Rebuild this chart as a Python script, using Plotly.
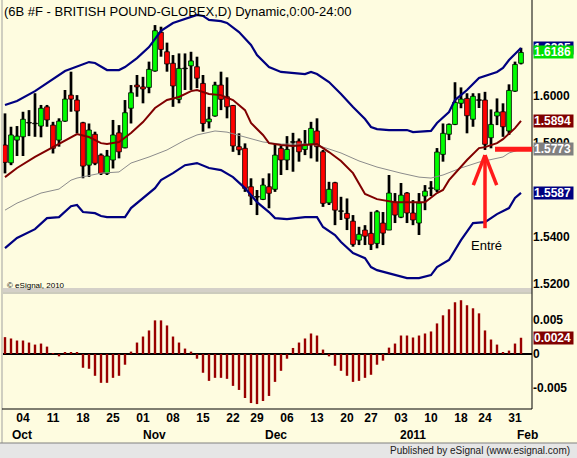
import pandas as pd
import plotly.graph_objects as go

# ---------------- data ----------------
holidays = ["2010-11-25", "2010-12-24", "2011-01-17"]
dates = [d.strftime("%Y-%m-%d") for d in pd.bdate_range("2010-09-29", "2011-02-01")
         if d.strftime("%Y-%m-%d") not in holidays]

opens = [1.5791, 1.5715, 1.5812, 1.5826, 1.5886, 1.5883, 1.5872, 1.5954, 1.5876, 1.5812,
         1.5893, 1.6004, 1.5983, 1.5886, 1.5705, 1.5837, 1.5748, 1.5670, 1.5727, 1.5843,
         1.5779, 1.5948, 1.6047, 1.6039, 1.6037, 1.6107, 1.6272, 1.6189, 1.6140, 1.5986,
         1.6118, 1.6129, 1.6125, 1.6054, 1.5890, 1.5915, 1.6047, 1.5997, 1.5960, 1.5784,
         1.5777, 1.5613, 1.5570, 1.5559, 1.5613, 1.5602, 1.5777, 1.5727, 1.5804, 1.5808,
         1.5772, 1.5795, 1.5851, 1.5762, 1.5544, 1.5630, 1.5509, 1.5499, 1.5466, 1.5385,
         1.5428, 1.5414, 1.5371, 1.5458, 1.5428, 1.5547, 1.5483, 1.5586, 1.5501, 1.5458,
         1.5573, 1.5607, 1.5599, 1.5751, 1.5837, 1.5879, 1.5969, 1.5990, 1.5901, 1.5983,
         1.5983, 1.5822, 1.5915, 1.5933, 1.5851, 1.6021, 1.6140]
highs = [1.5926, 1.5869, 1.5872, 1.5933, 1.5940, 1.6012, 1.5962, 1.5962, 1.5890, 1.5905,
         1.6026, 1.6104, 1.6004, 1.5890, 1.5883, 1.5848, 1.5755, 1.5770, 1.5898, 1.5876,
         1.5983, 1.6047, 1.6090, 1.6082, 1.6147, 1.6303, 1.6296, 1.6228, 1.6175, 1.6182,
         1.6182, 1.6189, 1.6168, 1.6090, 1.5954, 1.6061, 1.6104, 1.6080, 1.5962, 1.5841,
         1.5798, 1.5649, 1.5599, 1.5649, 1.5670, 1.5798, 1.5787, 1.5829, 1.5843, 1.5819,
         1.5855, 1.5890, 1.5905, 1.5770, 1.5634, 1.5634, 1.5570, 1.5563, 1.5492, 1.5442,
         1.5449, 1.5506, 1.5513, 1.5505, 1.5663, 1.5586, 1.5629, 1.5590, 1.5556, 1.5586,
         1.5620, 1.5637, 1.5778, 1.5883, 1.5883, 1.6059, 1.6037, 1.6012, 1.6012, 1.6012,
         1.6018, 1.5943, 1.5990, 1.5969, 1.6050, 1.6147, 1.6206]
lows = [1.5670, 1.5705, 1.5744, 1.5744, 1.5829, 1.5826, 1.5824, 1.5869, 1.5755, 1.5784,
        1.5890, 1.5933, 1.5841, 1.5649, 1.5655, 1.5705, 1.5663, 1.5663, 1.5691, 1.5734,
        1.5777, 1.5883, 1.5997, 1.5969, 1.6012, 1.6104, 1.6168, 1.6104, 1.5954, 1.5969,
        1.6026, 1.6026, 1.6034, 1.5848, 1.5862, 1.5912, 1.5940, 1.5905, 1.5762, 1.5748,
        1.5591, 1.5535, 1.5492, 1.5556, 1.5521, 1.5591, 1.5663, 1.5684, 1.5677, 1.5720,
        1.5748, 1.5734, 1.5720, 1.5527, 1.5535, 1.5449, 1.5471, 1.5428, 1.5357, 1.5364,
        1.5364, 1.5343, 1.5350, 1.5364, 1.5428, 1.5458, 1.5479, 1.5458, 1.5449, 1.5407,
        1.5513, 1.5573, 1.5590, 1.5720, 1.5812, 1.5876, 1.5948, 1.5841, 1.5869, 1.5949,
        1.5770, 1.5777, 1.5876, 1.5826, 1.5834, 1.6018, 1.6135]
closes = [1.5717, 1.5834, 1.5829, 1.5901, 1.5886, 1.5883, 1.5948, 1.5898, 1.5777, 1.5893,
          1.5987, 1.5987, 1.5936, 1.5701, 1.5855, 1.5713, 1.5670, 1.5744, 1.5834, 1.5762,
          1.5929, 1.6014, 1.6039, 1.6030, 1.6114, 1.6279, 1.6199, 1.6137, 1.6043, 1.6118,
          1.6118, 1.6150, 1.6076, 1.5883, 1.5902, 1.6047, 1.5986, 1.5954, 1.5787, 1.5770,
          1.5606, 1.5573, 1.5570, 1.5620, 1.5585, 1.5748, 1.5727, 1.5772, 1.5804, 1.5762,
          1.5795, 1.5862, 1.5784, 1.5542, 1.5602, 1.5513, 1.5509, 1.5478, 1.5367, 1.5410,
          1.5402, 1.5367, 1.5506, 1.5415, 1.5586, 1.5492, 1.5577, 1.5501, 1.5471, 1.5543,
          1.5594, 1.5607, 1.5761, 1.5841, 1.5879, 1.5973, 1.5987, 1.5916, 1.5999, 1.5983,
          1.5794, 1.5879, 1.5932, 1.5869, 1.6024, 1.6135, 1.6186]

# Bollinger-style bands and averages (bar index, value)
upper_idx = [0, 2, 5, 7, 10, 14, 15, 17, 19, 20, 22, 24, 26, 28, 30, 32, 33, 34, 36, 37,
             39, 41, 42, 44, 46, 48, 50, 51, 52, 54, 56, 58, 60, 61, 62, 64, 67, 68, 71, 72,
             74, 75, 77, 79, 82, 83, 84, 86]
upper_val = [1.5962, 1.5979, 1.6021, 1.6056, 1.6107, 1.6145, 1.6141, 1.6111, 1.6111, 1.6124,
             1.6162, 1.6209, 1.6278, 1.6312, 1.6329, 1.6346, 1.6342, 1.6325, 1.6320, 1.6312,
             1.6273, 1.6218, 1.6175, 1.6124, 1.6103, 1.6098, 1.6094, 1.6103, 1.6094, 1.6060,
             1.6009, 1.5953, 1.5902, 1.5868, 1.5859, 1.5855, 1.5855, 1.5846, 1.5851, 1.5885,
             1.5932, 1.5983, 1.6026, 1.6077, 1.6103, 1.6120, 1.6154, 1.6205]
lower_idx = [0, 2, 5, 7, 9, 10, 11, 12, 13, 15, 16, 17, 20, 21, 23, 25, 26, 28, 30, 32,
             34, 36, 38, 40, 42, 44, 45, 47, 50, 52, 53, 55, 56, 58, 60, 61, 62, 64, 66, 67,
             69, 71, 72, 74, 76, 78, 80, 82, 84, 85, 86]
lower_val = [1.5351, 1.5394, 1.5432, 1.5479, 1.5483, 1.5505, 1.5530, 1.5535, 1.5505, 1.5500,
             1.5488, 1.5483, 1.5483, 1.5522, 1.5565, 1.5607, 1.5641, 1.5671, 1.5705, 1.5714,
             1.5693, 1.5684, 1.5654, 1.5607, 1.5547, 1.5505, 1.5479, 1.5475, 1.5483, 1.5483,
             1.5441, 1.5407, 1.5377, 1.5330, 1.5308, 1.5270, 1.5257, 1.5244, 1.5231, 1.5223,
             1.5223, 1.5236, 1.5270, 1.5300, 1.5385, 1.5458, 1.5462, 1.5496, 1.5522, 1.5565,
             1.5587]
ma_idx = [0, 2, 5, 8, 10, 12, 14, 16, 17, 19, 21, 23, 25, 27, 29, 31, 32, 34, 36, 38,
          40, 41, 43, 44, 46, 48, 50, 52, 54, 56, 58, 60, 62, 63, 65, 67, 70, 72, 73, 74,
          76, 77, 79, 80, 82, 83, 85, 86]
ma_val = [1.5654, 1.5693, 1.5740, 1.5782, 1.5812, 1.5838, 1.5825, 1.5799, 1.5795, 1.5804,
          1.5842, 1.5889, 1.5949, 1.5983, 1.5996, 1.6021, 1.6026, 1.6009, 1.6004, 1.5983,
          1.5940, 1.5885, 1.5834, 1.5799, 1.5791, 1.5787, 1.5791, 1.5795, 1.5761, 1.5723,
          1.5671, 1.5582, 1.5560, 1.5556, 1.5547, 1.5547, 1.5547, 1.5586, 1.5599, 1.5641,
          1.5697, 1.5727, 1.5778, 1.5782, 1.5799, 1.5816, 1.5863, 1.5894]
slow_idx = [0, 2, 6, 9, 11, 12, 16, 19, 21, 24, 27, 30, 32, 35, 37, 40, 43, 46, 50, 52,
            56, 59, 62, 66, 69, 71, 73, 76, 79, 83, 84, 86]
slow_val = [1.5513, 1.5543, 1.5586, 1.5603, 1.5641, 1.5650, 1.5671, 1.5676, 1.5714, 1.5740,
            1.5770, 1.5812, 1.5834, 1.5851, 1.5846, 1.5825, 1.5804, 1.5795, 1.5795, 1.5791,
            1.5757, 1.5723, 1.5697, 1.5671, 1.5654, 1.5650, 1.5663, 1.5693, 1.5718, 1.5740,
            1.5757, 1.5773]

# oscillator (lower panel)
osc = [0.00249, 0.00229, 0.00199, 0.00199, 0.00169, 0.00139, 0.00154, 0.00109, 0.00005, -0.00035,
       0.00020, 0.00020, 0.00020, -0.00204, -0.00219, -0.00323, -0.00427, -0.00427, -0.00353, -0.00323,
       -0.00159, 0.00035, 0.00169, 0.00258, 0.00348, 0.00497, 0.00497, 0.00422, 0.00258, 0.00169,
       0.00080, 0.00035, -0.00070, -0.00278, -0.00398, -0.00353, -0.00353, -0.00368, -0.00472, -0.00532,
       -0.00651, -0.00726, -0.00741, -0.00696, -0.00621, -0.00413, -0.00249, -0.00070, 0.00089, 0.00169,
       0.00229, 0.00303, 0.00273, 0.00065, -0.00035, -0.00174, -0.00249, -0.00323, -0.00413, -0.00398,
       -0.00353, -0.00308, -0.00159, -0.00099, 0.00094, 0.00154, 0.00273, 0.00273, 0.00244, 0.00273,
       0.00303, 0.00333, 0.00452, 0.00572, 0.00661, 0.00765, 0.00795, 0.00721, 0.00676, 0.00601,
       0.00348, 0.00214, 0.00139, 0.00020, 0.00050, 0.00154, 0.00240]

tick_dates = ["2010-10-04", "2010-10-11", "2010-10-18", "2010-10-25", "2010-11-01", "2010-11-08",
              "2010-11-15", "2010-11-22", "2010-11-29", "2010-12-06", "2010-12-13", "2010-12-20",
              "2010-12-27", "2011-01-03", "2011-01-10", "2011-01-18", "2011-01-24", "2011-01-31"]
month_dates = ["2010-10-01", "2010-11-01", "2010-12-01", "2011-01-03", "2011-02-01"]
month_text = ["Oct", "Nov", "Dec", "2011", "Feb"]
price_ticks = [1.52, 1.54, 1.58, 1.60]
osc_ticks = [0.005, 0.0, -0.005]
osc_tick_text = ["0.005", "0", "-0.005"]
entry_date = "2011-01-24"
entry_level = 1.5773

title = "(6B #F - BRITISH POUND-GLOBEX,D) Dynamic,0:00-24:00"

# ---------------- figure ----------------
F = "Liberation Sans, Arial, sans-serif"
BG = "#FEFCE0"
idx = list(range(len(dates)))
pos = {d: i for i, d in enumerate(dates)}

body_base, body_h, body_col = [], [], []
for o, c in zip(opens, closes):
    if c == o:
        body_base.append(o - 0.00012)
        body_h.append(0.00024)
        body_col.append("black")
    else:
        body_base.append(min(o, c))
        body_h.append(abs(c - o))
        body_col.append("#00FF00" if c > o else "#FF0000")

fig = go.Figure()
# bands & averages
fig.add_trace(go.Scatter(x=slow_idx, y=slow_val, mode="lines", line=dict(color="#8C8C8C", width=1), xaxis="x", yaxis="y"))
fig.add_trace(go.Scatter(x=ma_idx, y=ma_val, mode="lines", line=dict(color="#800000", width=2), xaxis="x", yaxis="y"))
fig.add_trace(go.Scatter(x=upper_idx, y=upper_val, mode="lines", line=dict(color="#000080", width=2.2), xaxis="x", yaxis="y"))
fig.add_trace(go.Scatter(x=lower_idx, y=lower_val, mode="lines", line=dict(color="#000080", width=2.2), xaxis="x", yaxis="y"))
# wicks
fig.add_trace(go.Bar(x=idx, y=[h - l for h, l in zip(highs, lows)], base=lows, width=0.45,
                     marker=dict(color="black", line=dict(width=0)), xaxis="x", yaxis="y"))
# bodies
fig.add_trace(go.Bar(x=idx, y=body_h, base=body_base, width=0.8,
                     marker=dict(color=body_col, line=dict(color="black", width=0.8)), xaxis="x", yaxis="y"))
# oscillator
fig.add_trace(go.Bar(x=idx, y=osc, width=0.4, marker=dict(color="#990000", line=dict(width=0)),
                     xaxis="x2", yaxis="y2"))

plot_w = 577 - 3 - 45
plot_h = 409
def px_x(p):
    return (p - 3) / plot_w
def px_y(p):
    return (plot_h - p) / plot_h

xr = [-0.333, 87.833]
tick_idx = [pos[d] for d in tick_dates]
tick_txt = [d[-2:] for d in tick_dates]

shapes = []
# panel separator
shapes.append(dict(type="rect", xref="paper", yref="paper", x0=px_x(3), x1=1, y0=px_y(292), y1=px_y(288),
                   fillcolor="#D4D0C8", line=dict(width=0), layer="above"))
shapes.append(dict(type="line", xref="paper", yref="paper", x0=px_x(3), x1=1, y0=px_y(293), y1=px_y(293),
                   line=dict(color="#9A9A9A", width=1), layer="above"))
# frame lines
shapes.append(dict(type="line", xref="paper", yref="paper", x0=1, x1=1, y0=0, y1=1,
                   line=dict(color="black", width=1), layer="above"))
shapes.append(dict(type="line", xref="paper", yref="paper", x0=px_x(2), x1=px_x(2), y0=px_y(443), y1=1,
                   line=dict(color="#A0A0A0", width=1), layer="above"))
shapes.append(dict(type="line", xref="paper", yref="paper", x0=px_x(2), x1=1, y0=0, y1=0,
                   line=dict(color="black", width=1), layer="above"))
# status bar
shapes.append(dict(type="rect", xref="paper", yref="paper", x0=px_x(0), x1=px_x(577), y0=px_y(458), y1=px_y(443),
                   fillcolor="#E6E6E6", line=dict(width=0), layer="above"))
shapes.append(dict(type="line", xref="paper", yref="paper", x0=px_x(0), x1=px_x(577), y0=px_y(443), y1=px_y(443),
                   line=dict(color="#808080", width=1), layer="above"))

# entry arrow
ei = pos[entry_date]
red = "#FF1A1A"
shapes.append(dict(type="line", xref="x", yref="y", x0=ei, x1=ei, y0=1.5436, y1=1.5748,
                   line=dict(color=red, width=3.5), layer="above"))
shapes.append(dict(type="line", xref="x", yref="y", x0=ei - 1.95, x1=ei, y0=1.5620, y1=1.5748,
                   line=dict(color=red, width=3.5), layer="above"))
shapes.append(dict(type="line", xref="x", yref="y", x0=ei + 1.95, x1=ei, y0=1.5620, y1=1.5748,
                   line=dict(color=red, width=3.5), layer="above"))
shapes.append(dict(type="line", xref="x", yref="y", x0=ei + 1.67, x1=xr[1], y0=entry_level, y1=entry_level,
                   line=dict(color=red, width=5), layer="above"))

ann = []
ann.append(dict(xref="paper", yref="paper", x=px_x(2), y=1, xanchor="left", yanchor="top", yshift=-2,
                text=title, showarrow=False, font=dict(family=F, size=13, color="black")))
ann.append(dict(xref="paper", yref="paper", x=px_x(5), y=px_y(285), xanchor="left", yanchor="middle",
                text="\u00a9 eSignal, 2010", showarrow=False, font=dict(family=F, size=8, color="black")))
ann.append(dict(xref="x", yref="y", x=ei + 0.2, y=1.5364, xanchor="center", yanchor="middle",
                text="Entré", showarrow=False, font=dict(family=F, size=13, color="black")))
month_shift = [5, 11, 7, 12, 6]
for d, t, s in zip(month_dates, month_text, month_shift):
    ann.append(dict(xref="x2", yref="paper", x=pos[d], y=px_y(435), xanchor="center", yanchor="middle",
                    xshift=s, text=t, showarrow=False, font=dict(family=F, size=12, color="black", weight="bold")))
ann.append(dict(xref="paper", yref="paper", x=px_x(572), y=px_y(451), xanchor="right", yanchor="middle",
                text="Published by eSignal (www.esignal.com)", showarrow=False,
                font=dict(family=F, size=10, color="#202020")))

def vbox(val, yref, bg, fmt="{:.4f}"):
    return dict(xref="paper", yref=yref, x=px_x(533), y=val, xanchor="left", yanchor="middle",
                text=fmt.format(val), showarrow=False, bgcolor=bg, width=39, height=12, borderpad=0,
                align="left", font=dict(family=F, size=12, color="white", weight="bold"))

ann.append(vbox(upper_val[-1], "y", "#000080"))
ann.append(vbox(closes[-1], "y", "#00E000"))
ann.append(vbox(ma_val[-1], "y", "#800000"))
ann.append(vbox(slow_val[-1], "y", "#808080"))
ann.append(vbox(lower_val[-1], "y", "#000080"))
ann.append(vbox(osc[-1], "y2", "#800000"))

tickfont = dict(family=F, size=12, color="black", weight="bold")
fig.update_layout(
    width=577, height=458, margin=dict(l=3, r=45, t=0, b=49),
    paper_bgcolor=BG, plot_bgcolor=BG, showlegend=False, barmode="overlay",
    xaxis=dict(domain=[0, 1], range=xr, anchor="y", showticklabels=False, showgrid=False,
               zeroline=False, showline=False, ticks=""),
    yaxis=dict(domain=[px_y(287), 1], range=[1.5185, 1.6410], side="right", anchor="x",
               tickvals=price_ticks, ticktext=["{:.4f}".format(v) for v in price_ticks],
               tickfont=tickfont, showgrid=False, zeroline=False, showline=False, ticks=""),
    xaxis2=dict(domain=[0, 1], range=xr, anchor="y2", tickvals=tick_idx, ticktext=tick_txt,
                tickfont=tickfont, showgrid=False, zeroline=False, showline=False, ticks=""),
    yaxis2=dict(domain=[0, px_y(293)], range=[-0.00814, 0.00902], side="right", anchor="x2",
                tickvals=osc_ticks, ticktext=osc_tick_text, tickfont=tickfont, showgrid=False,
                zeroline=True, zerolinecolor="black", zerolinewidth=1.5, showline=False, ticks=""),
    shapes=shapes, annotations=ann,
)

fig.write_html("out.html")
